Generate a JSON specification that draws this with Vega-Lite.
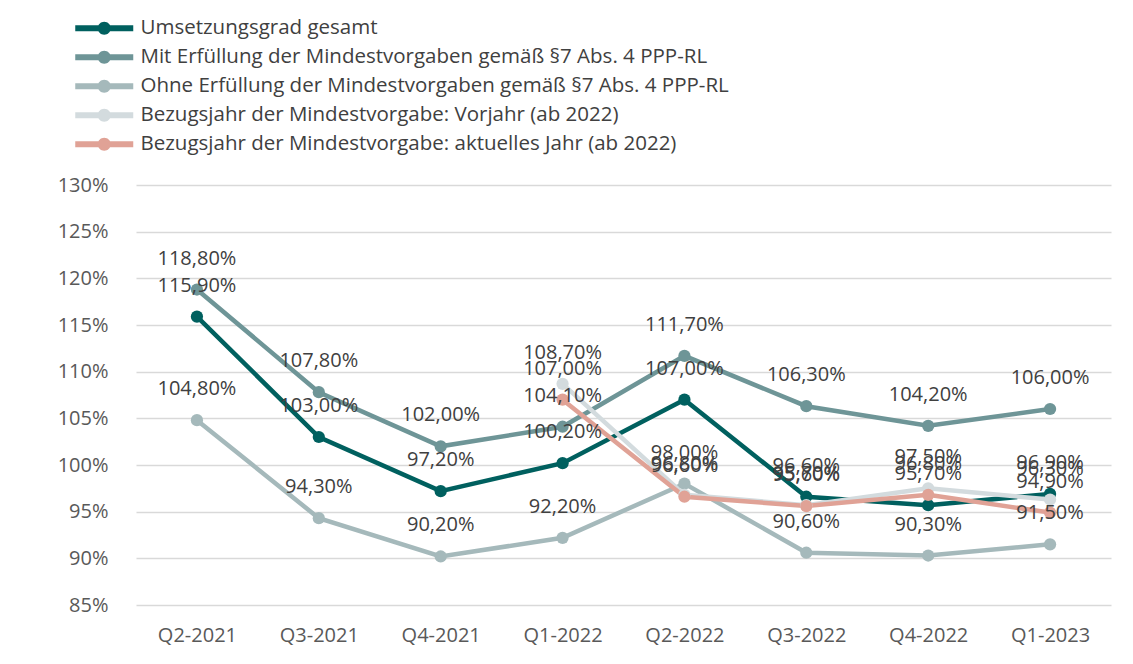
{
  "$schema": "https://vega.github.io/schema/vega-lite/v6.json",
  "autosize": "none",
  "width": 975,
  "height": 420,
  "padding": {"left": 136, "top": 185, "right": 22, "bottom": 59},
  "background": "white",
  "config": {
    "font": "Open Sans",
    "view": {"stroke": null},
    "locale": {"number": {"decimal": ",", "thousands": ".", "grouping": [3], "currency": ["", " €"]}}
  },
  "data": {
    "values": [
      {"q": "Q2-2021", "s": "Umsetzungsgrad gesamt", "v": 1.159},
      {"q": "Q3-2021", "s": "Umsetzungsgrad gesamt", "v": 1.030},
      {"q": "Q4-2021", "s": "Umsetzungsgrad gesamt", "v": 0.972},
      {"q": "Q1-2022", "s": "Umsetzungsgrad gesamt", "v": 1.002},
      {"q": "Q2-2022", "s": "Umsetzungsgrad gesamt", "v": 1.070},
      {"q": "Q3-2022", "s": "Umsetzungsgrad gesamt", "v": 0.966},
      {"q": "Q4-2022", "s": "Umsetzungsgrad gesamt", "v": 0.957},
      {"q": "Q1-2023", "s": "Umsetzungsgrad gesamt", "v": 0.969},
      {"q": "Q2-2021", "s": "Mit Erfüllung der Mindestvorgaben gemäß §7 Abs. 4 PPP-RL", "v": 1.188},
      {"q": "Q3-2021", "s": "Mit Erfüllung der Mindestvorgaben gemäß §7 Abs. 4 PPP-RL", "v": 1.078},
      {"q": "Q4-2021", "s": "Mit Erfüllung der Mindestvorgaben gemäß §7 Abs. 4 PPP-RL", "v": 1.020},
      {"q": "Q1-2022", "s": "Mit Erfüllung der Mindestvorgaben gemäß §7 Abs. 4 PPP-RL", "v": 1.041},
      {"q": "Q2-2022", "s": "Mit Erfüllung der Mindestvorgaben gemäß §7 Abs. 4 PPP-RL", "v": 1.117},
      {"q": "Q3-2022", "s": "Mit Erfüllung der Mindestvorgaben gemäß §7 Abs. 4 PPP-RL", "v": 1.063},
      {"q": "Q4-2022", "s": "Mit Erfüllung der Mindestvorgaben gemäß §7 Abs. 4 PPP-RL", "v": 1.042},
      {"q": "Q1-2023", "s": "Mit Erfüllung der Mindestvorgaben gemäß §7 Abs. 4 PPP-RL", "v": 1.060},
      {"q": "Q2-2021", "s": "Ohne Erfüllung der Mindestvorgaben gemäß §7 Abs. 4 PPP-RL", "v": 1.048},
      {"q": "Q3-2021", "s": "Ohne Erfüllung der Mindestvorgaben gemäß §7 Abs. 4 PPP-RL", "v": 0.943},
      {"q": "Q4-2021", "s": "Ohne Erfüllung der Mindestvorgaben gemäß §7 Abs. 4 PPP-RL", "v": 0.902},
      {"q": "Q1-2022", "s": "Ohne Erfüllung der Mindestvorgaben gemäß §7 Abs. 4 PPP-RL", "v": 0.922},
      {"q": "Q2-2022", "s": "Ohne Erfüllung der Mindestvorgaben gemäß §7 Abs. 4 PPP-RL", "v": 0.980},
      {"q": "Q3-2022", "s": "Ohne Erfüllung der Mindestvorgaben gemäß §7 Abs. 4 PPP-RL", "v": 0.906},
      {"q": "Q4-2022", "s": "Ohne Erfüllung der Mindestvorgaben gemäß §7 Abs. 4 PPP-RL", "v": 0.903},
      {"q": "Q1-2023", "s": "Ohne Erfüllung der Mindestvorgaben gemäß §7 Abs. 4 PPP-RL", "v": 0.915},
      {"q": "Q1-2022", "s": "Bezugsjahr der Mindestvorgabe: Vorjahr (ab 2022)", "v": 1.087},
      {"q": "Q2-2022", "s": "Bezugsjahr der Mindestvorgabe: Vorjahr (ab 2022)", "v": 0.968},
      {"q": "Q3-2022", "s": "Bezugsjahr der Mindestvorgabe: Vorjahr (ab 2022)", "v": 0.957},
      {"q": "Q4-2022", "s": "Bezugsjahr der Mindestvorgabe: Vorjahr (ab 2022)", "v": 0.975},
      {"q": "Q1-2023", "s": "Bezugsjahr der Mindestvorgabe: Vorjahr (ab 2022)", "v": 0.963},
      {"q": "Q1-2022", "s": "Bezugsjahr der Mindestvorgabe: aktuelles Jahr (ab 2022)", "v": 1.070},
      {"q": "Q2-2022", "s": "Bezugsjahr der Mindestvorgabe: aktuelles Jahr (ab 2022)", "v": 0.966},
      {"q": "Q3-2022", "s": "Bezugsjahr der Mindestvorgabe: aktuelles Jahr (ab 2022)", "v": 0.956},
      {"q": "Q4-2022", "s": "Bezugsjahr der Mindestvorgabe: aktuelles Jahr (ab 2022)", "v": 0.968},
      {"q": "Q1-2023", "s": "Bezugsjahr der Mindestvorgabe: aktuelles Jahr (ab 2022)", "v": 0.949}
    ]
  },
  "encoding": {
    "x": {
      "field": "q", "type": "ordinal", "sort": null,
      "scale": {"paddingInner": 0, "paddingOuter": 0.5},
      "axis": {"title": null, "labelAngle": 0, "labelFontSize": 20, "labelColor": "#595959", "labelPadding": 20, "ticks": false, "domain": false, "grid": false}
    },
    "y": {
      "field": "v", "type": "quantitative",
      "scale": {"domain": [0.85, 1.30], "nice": false, "zero": false},
      "axis": {"title": null, "format": ".0%", "values": [0.85, 0.9, 0.95, 1.0, 1.05, 1.1, 1.15, 1.2, 1.25, 1.3], "labelFontSize": 20, "labelColor": "#595959", "labelPadding": 28, "ticks": false, "domain": false, "gridColor": "#D9D9D9", "gridWidth": 1.5}
    },
    "color": {
      "field": "s", "type": "nominal", "sort": null,
      "scale": {
        "domain": ["Umsetzungsgrad gesamt", "Mit Erfüllung der Mindestvorgaben gemäß §7 Abs. 4 PPP-RL", "Ohne Erfüllung der Mindestvorgaben gemäß §7 Abs. 4 PPP-RL", "Bezugsjahr der Mindestvorgabe: Vorjahr (ab 2022)", "Bezugsjahr der Mindestvorgabe: aktuelles Jahr (ab 2022)"],
        "range": ["#00605F", "#6E9597", "#A5B9BB", "#D3DBDE", "#E0A296"]
      },
      "legend": {
        "title": null, "orient": "none", "legendX": -42, "legendY": -167,
        "labelFontSize": 20.5, "labelColor": "#404040", "labelLimit": 800,
        "symbolType": "M-2.9,-0.3 H2.9 V0.3 H-2.9 Z M0.65,0 A0.65,0.65 0 1,1 -0.65,0 A0.65,0.65 0 1,1 0.65,0 Z",
        "symbolSize": 400, "symbolStrokeWidth": 0, "rowPadding": 8, "labelOffset": 26,
        "encode": {"symbols": {"update": {"fill": {"scale": "color", "field": "value"}, "strokeWidth": {"value": 0}, "opacity": {"value": 1}}}}
      }
    }
  },
  "layer": [
    {"mark": {"type": "line", "strokeWidth": 4.5, "point": {"filled": true, "size": 150, "opacity": 1}}},
    {
      "mark": {"type": "text", "dy": -31, "fontSize": 20, "color": "#404040"},
      "encoding": {"text": {"field": "v", "type": "quantitative", "format": ".2%"}, "color": {"value": "#404040"}}
    }
  ]
}
